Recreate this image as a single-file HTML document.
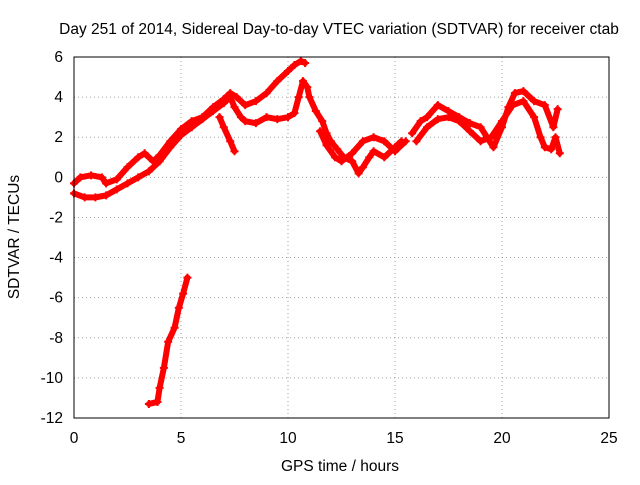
<!DOCTYPE html>
<html><head><meta charset="utf-8"><style>
body{margin:0;background:#fff}
svg text{font-family:"Liberation Sans",sans-serif;font-size:15.5px;fill:#000}
</style></head><body>
<svg id="chart" width="640" height="480">
<text x="339" y="34" text-anchor="middle">Day 251 of 2014, Sidereal Day-to-day VTEC variation (SDTVAR) for receiver ctab</text>
<text x="340" y="471" text-anchor="middle">GPS time / hours</text>
<text transform="translate(19,237) rotate(-90)" text-anchor="middle">SDTVAR / TECUs</text>
<g id="grid"></g><g id="ticks"></g><g id="series"></g>
<rect x="74" y="57" width="535" height="361" fill="none" stroke="#000"/>
</svg>
<script>
const xTicks=[0,5,10,15,20,25];
const yTicks=[6,4,2,0,-2,-4,-6,-8,-10,-12];
const trackA=[[0,-0.8],[0.5,-1.0],[1,-1.0],[1.5,-0.9],[2,-0.6],[2.5,-0.3],[3,0.0],[3.5,0.3],[4,0.8],[4.5,1.5],[5,2.1],[5.5,2.5],[6,2.9],[6.5,3.3],[7,3.7],[7.3,4.0],[7.5,3.5],[7.8,3.0],[8,2.8],[8.5,2.7],[9,3.0],[9.5,2.9],[10,3.0],[10.3,3.2],[10.5,4.0],[10.7,4.8],[10.9,4.5],[11,4.0],[11.3,3.3],[11.6,2.8],[11.8,2.2],[12,1.8],[12.3,1.4],[12.6,1.0],[13,0.8],[13.3,0.2],[13.5,0.5],[13.8,1.0],[14,1.3],[14.5,1.0],[15,1.5],[15.3,1.8]];
const trackB=[[0,-0.3],[0.3,0.0],[0.8,0.1],[1.3,0.0],[1.5,-0.3],[2,-0.1],[2.5,0.5],[3,1.0],[3.3,1.2],[3.7,0.8],[4,1.1],[4.5,1.8],[5,2.4],[5.5,2.8],[6,3.0],[6.5,3.5],[7,3.9],[7.3,4.2],[7.6,4.0],[8,3.6],[8.5,3.8],[9,4.2],[9.5,4.8],[10,5.3],[10.3,5.6],[10.6,5.8],[10.8,5.7]];
const trackC=[[6.8,3.0],[7,2.5],[7.3,1.8],[7.5,1.3]];
const trackD=[[11.5,2.3],[11.8,1.6],[12.2,1.0],[12.5,0.8],[13,1.2],[13.5,1.8],[14,2.0],[14.5,1.8],[15,1.3],[15.5,1.8]];
const trackE=[[15.8,2.2],[16.2,2.8],[16.5,3.0],[17,3.6],[17.5,3.3],[18,3.0],[18.5,2.7],[19,2.5],[19.3,2.0],[19.6,1.5],[20,2.5],[20.3,3.5],[20.6,4.2],[21,4.3],[21.5,3.8],[22,3.6],[22.4,2.5],[22.6,3.4]];
const trackF=[[16,1.8],[16.5,2.5],[17,2.9],[17.5,3.0],[18,2.8],[18.5,2.3],[19,1.8],[19.5,2.0],[20,2.8],[20.5,3.6],[21,3.8],[21.5,3.0],[21.8,2.0],[22,1.5],[22.3,1.4],[22.5,2.0],[22.7,1.2]];
const trackG=[[3.5,-11.3],[3.9,-11.2],[4,-10.5],[4.2,-9.5],[4.4,-8.2],[4.7,-7.5],[4.9,-6.5],[5.1,-5.8],[5.3,-5.0]];
const tracks=[trackA,trackB,trackC,trackD,trackE,trackF,trackG];
const NS="http://www.w3.org/2000/svg";
const X=v=>74+(v-0)/25*535;
const Y=v=>418-(v+12)/18*361;
function mk(t,a,p){const e=document.createElementNS(NS,t);for(const k in a)e.setAttribute(k,a[k]);p.appendChild(e);return e;}
const grid=document.getElementById('grid'),ticks=document.getElementById('ticks'),ser=document.getElementById('series');
xTicks.forEach(t=>{
 if(t>0&&t<25){const g=mk('line',{x1:X(t),x2:X(t),y1:57,y2:418,stroke:'#a0a0a0','stroke-dasharray':'1,3'},grid);
 
 }
 const l=mk('text',{x:X(t),y:443,'text-anchor':'middle'},ticks);l.textContent=t;
 
 
});
yTicks.forEach(t=>{
 if(t>-12&&t<6){const g=mk('line',{x1:74,x2:609,y1:Y(t),y2:Y(t),stroke:'#a0a0a0','stroke-dasharray':'1,3'},grid);
 
 }
 const l=mk('text',{x:63,y:Y(t)+5,'text-anchor':'end'},ticks);l.textContent=t;
 
 
});
tracks.forEach(tr=>{
 const pl=mk('polyline',{points:tr.map(p=>X(p[0])+','+Y(p[1])).join(' '),fill:'none',stroke:'#f00','stroke-width':6,'stroke-linejoin':'round','stroke-linecap':'round'},ser);
 
 
 tr.forEach(p=>{
  const x=X(p[0]),y=Y(p[1]);
  const m=mk('path',{d:`M${x-4},${y}H${x+4}M${x},${y-4}V${y+4}`,stroke:'#f00','stroke-width':2},ser);
  
  
 });
});
</script>
</body></html>
